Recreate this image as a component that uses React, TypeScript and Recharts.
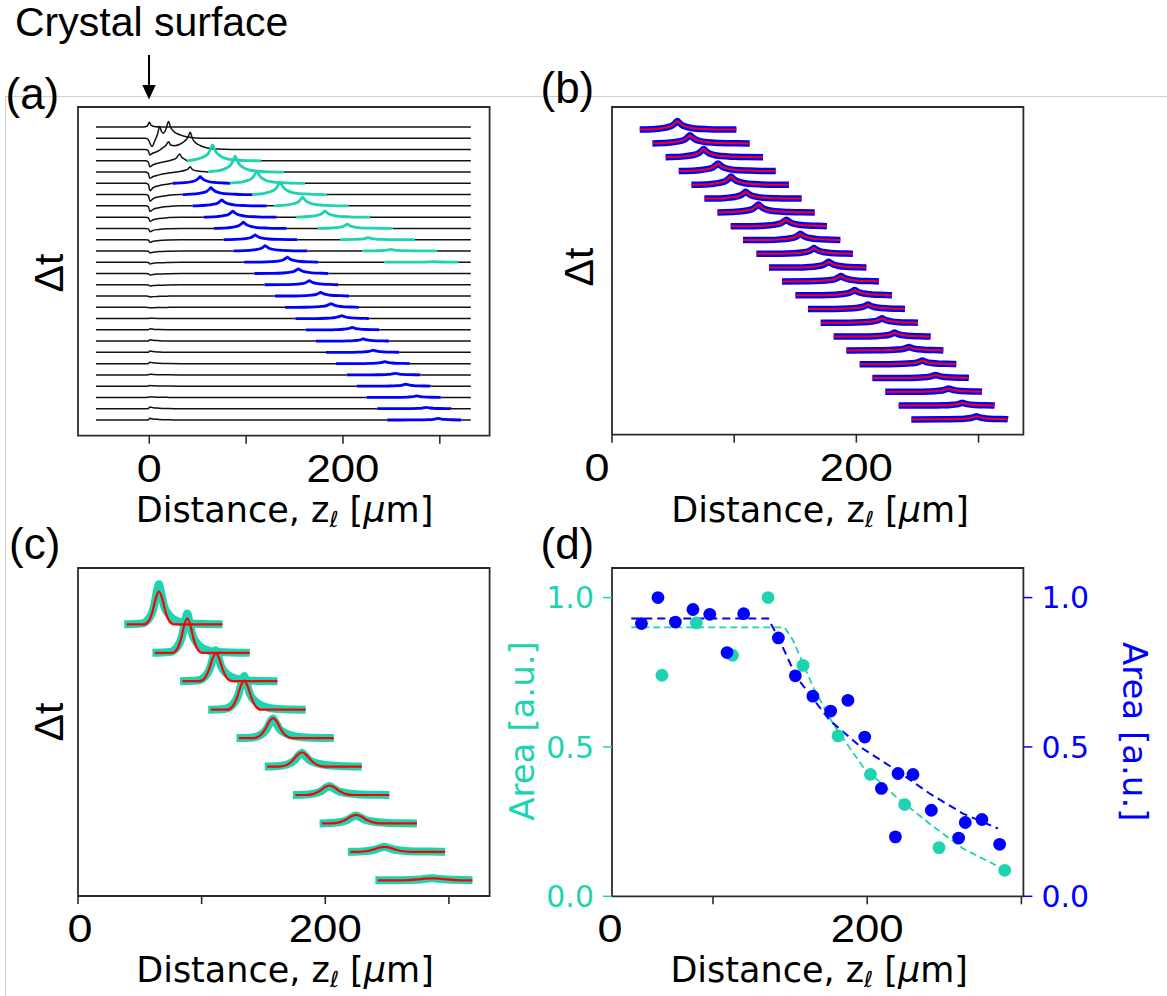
import React from 'react';
import { ComposedChart, Line, Scatter, XAxis, YAxis, ReferenceArea } from 'recharts';

type XY = [number, number];
type Pt = { x: number; y: number };

const CYAN = '#1dd3b0';
const BLUE = '#0000ff';
const RED = '#ff0000';
const INK = '#111111';
const FRAME = '#2b2b2b';
const SANS = '"Liberation Sans", Arial, sans-serif';
const DEJAVU = '"DejaVu Sans", sans-serif';

// --- shapes: [offset from peak in µm, fraction of peak height] ---
const SHARP_PEAK: XY[] = [[-27, 0.01], [-16, 0.1], [-9.5, 0.24], [-4.5, 0.45], [-1.5, 0.8], [0, 1], [1.5, 0.8], [4, 0.52], [7.5, 0.32], [14, 0.14], [25, 0.05], [35, 0.01]];
const SURFACE_DIP: XY[] = [[-4, 0], [-1, 0.15], [0.8, 1], [4, 0.6], [10, 0.32], [20, 0.1], [32, 0]];
const C_DATA_PEAK: XY[] = [[-14, 0.02], [-8, 0.15], [-4, 0.45], [-1.5, 0.85], [0, 1], [1.5, 0.82], [4, 0.47], [8, 0.24], [14, 0.09], [24, 0.02]];
const C_FIT_PEAK: XY[] = [[-12, 0], [-8, 0.12], [-5, 0.42], [-2.5, 0.8], [0, 1], [2.5, 0.8], [5, 0.42], [8, 0.12], [12, 0]];

// --- (a) raw traces, 27 delays, z in µm ---
const A_X0 = -55;
const A_X1 = 332;
const A_TOP_BLACK: XY[][] = [
  [[-55, 0], [-6, 0], [-2, 1], [0, 4.7], [2, 1.5], [5, 0.5], [12, 0], [332, 0]],
  [[-55, 0], [-4, 0], [-1, -1.5], [2.8, -8.3], [5.5, -3], [8.5, 4], [10.7, 11.7], [12.5, 7], [14.1, 5], [17, 8.5], [19.9, 16.7], [22, 11], [25, 7], [29, 4.5], [35, 2.3], [45, 0.6], [60, 0], [332, 0]],
  [[-55, 0], [-4, 0], [-1, -1.2], [0.5, -5.5], [3, -4], [8, -2], [13, 1], [17, 4], [20, 7.8], [22, 4.5], [26, 3.8], [31, 5], [36, 8], [40, 12.5], [42.3, 17.2], [44.5, 11], [47.5, 7], [53, 3.8], [60, 1.5], [70, 0.4], [85, 0], [332, 0]],
  [[-55, 0], [-4, 0], [-1, -1.2], [0.5, -5.9], [4, -4], [10, -2.2], [18, -0.5], [24, 1], [28, 2.8], [31.4, 6.8], [33.5, 3.5], [36, 2], [332, 0]],
  [[-55, 0], [-4, 0], [-1, -1.3], [0.5, -6.3], [4, -4.5], [10, -2.8], [20, -1], [30, 0.3], [37, 1.8], [40, 3], [42.2, 5.3], [44.5, 2.5], [50, 1], [56, 0.5], [332, 0]],
];
// surface feature of traces 5..26 (negative = dip)
const A_SURFACE = [-7.3, -6.7, -5.7, -4.3, -3.3, -2.7, -2, -1.7, -1.5, -1.3, -1, -0.7, 0.4, 1, 1.3, 1.3, 1.3, 0.7, 0.7, 0.7, 1.7, 1.7];
// blue (transmitted) pulse, traces 5..26
const A_BLUE_START = [24, 34.7, 44.7, 56, 66.3, 76.6, 86.9, 97.9, 108.6, 118.9, 129.9, 140.2, 150.8, 161.5, 172.2, 182.5, 192.8, 203.8, 214.1, 224.7, 235.4, 245.7];
const A_BLUE_END = [83.5, 106.5, 121.3, 131.6, 141.9, 152.9, 163.2, 174.5, 184.9, 195.2, 206.2, 216.5, 226.8, 237.4, 247.7, 258, 269.1, 280.1, 290.4, 301, 311.6, 322];
const A_BLUE_PEAK = [52.6, 63.6, 74.9, 86.3, 97.2, 109.3, 119.6, 142.6, 153.9, 165.3, 177, 187.6, 198.6, 209.6, 220.9, 231.2, 243.3, 254.3, 265, 276, 286.3, 298];
const A_BLUE_HEIGHT = [6.6, 6.9, 6, 6, 6.3, 4.7, 5.3, 5, 4.7, 4, 3.7, 3.7, 3, 2.5, 2.2, 2.2, 2, 1.6, 2, 1.6, 1.4, 1.6];
// cyan (fast) pulse, traces 3..12
const A_CYAN_START = [38.9, 61.1, 83.5, 106.5, 128.9, 151.5, 174.6, 196.9, 219.9, 242.6];
const A_CYAN_END = [115.5, 138.5, 160.8, 183.2, 205.5, 227.8, 251.2, 274.2, 296.6, 318.9];
const A_CYAN_PEAK = [65.3, 88.7, 111, 135, 158.4, 181.4, 204.5, 226.1, 249.2, 293];
const A_CYAN_HEIGHT = [16, 15.8, 12.2, 12.8, 8.8, 6.2, 4.2, 2, 1.6, 0.6];

// --- (b) blue pulse with fit, 22 delays ---
const B_START = [22.7, 33.1, 43.9, 54.6, 65, 75.6, 86.3, 97.1, 107.2, 118.2, 128.5, 139.1, 150.1, 160.4, 170.8, 181.4, 191.8, 202.7, 213.1, 223.7, 234.6, 245];
const B_END = [101.8, 112.7, 123.6, 134, 144.8, 155.2, 165.9, 175.9, 186.9, 197.2, 208.2, 218.5, 229.1, 239.8, 250.4, 260.8, 271.2, 281.8, 292.1, 302.8, 313.2, 324.1];
const B_PEAK = [53.5, 63.8, 75, 86.8, 97.4, 109.4, 119.8, 142.7, 154.2, 165.3, 177.3, 187.4, 198.6, 209.5, 221, 231.3, 243, 254, 264.9, 275.5, 286.7, 298.2];
const B_HEIGHT = [8.5, 8.2, 8.2, 7.6, 8.2, 6.8, 7.9, 6.5, 6.2, 5.7, 5.9, 5.4, 5.1, 4.5, 4.5, 4, 3.4, 3.7, 3.1, 3.4, 2.8, 3.1];

// --- (c) cyan pulse with fit, 10 delays ---
const C_START = [37.4, 60.2, 82.5, 105.3, 128.2, 151, 173.8, 195.4, 218.2, 240.5];
const C_END = [116.9, 138.9, 161.3, 184.1, 206.9, 229.5, 251.8, 274.1, 296.9, 319];
const C_PEAK = [65.5, 88.4, 111.5, 134.4, 157.7, 181.1, 203.4, 224.9, 247.8, 286.7];
const C_DATA_HEIGHT = [40, 39.4, 31, 33.6, 19.7, 13.7, 9, 8, 5, 2];
const C_FIT_HEIGHT = [33, 34.4, 28, 29, 20, 14.3, 9.5, 8.5, 5, 2];
const C_WIDTH = [1, 1, 1.1, 1.15, 1.3, 1.5, 1.6, 1.7, 1.9, 2.4];

// --- (d) pulse areas ---
const D_CYAN_X = [66.9, 89.2, 112.6, 135.7, 158.4, 181.1, 202.1, 224.3, 246.6, 289.2];
const D_CYAN_Y = [0.74, 0.915, 0.807, 1.0, 0.773, 0.537, 0.408, 0.307, 0.163, 0.087];
const D_BLUE_X = [53.6, 64.3, 75.6, 87.0, 97.9, 109.1, 119.9, 142.4, 153.4, 164.8, 176.3, 187.5, 198.4, 209.2, 218.3, 220.0, 229.7, 241.6, 259.3, 263.6, 274.4, 285.9];
const D_BLUE_Y = [0.913, 1.0, 0.918, 0.96, 0.944, 0.816, 0.946, 0.865, 0.738, 0.67, 0.62, 0.656, 0.533, 0.361, 0.199, 0.411, 0.408, 0.288, 0.195, 0.247, 0.257, 0.174];
const D_CYAN_FIT_X = [47, 146.5, 151.9, 158.4, 164.9, 177.8, 197.3, 218.9, 240.5, 262.1, 289.2];
const D_CYAN_FIT_Y = [0.9, 0.9, 0.857, 0.779, 0.701, 0.578, 0.433, 0.332, 0.243, 0.16, 0.089];
const D_BLUE_FIT_X = [47, 135.7, 142.2, 154.1, 175.7, 197.3, 218.9, 240.5, 262.1, 284.8];
const D_BLUE_FIT_Y = [0.93, 0.93, 0.868, 0.734, 0.589, 0.494, 0.422, 0.344, 0.277, 0.227];

// --- layout ---
type Box = { x0: number; y0: number; x1: number; y1: number };
const BOX_A: Box = { x0: 77.7, y0: 107, x1: 489.3, y1: 435.7 };
const BOX_B: Box = { x0: 612.3, y0: 107.3, x1: 1023.7, y1: 435 };
const BOX_C: Box = { x0: 77.7, y0: 567.7, x1: 489.3, y1: 895.7 };
const BOX_D: Box = { x0: 612.3, y0: 567.7, x1: 1023.7, y1: 896 };
const PAD = 30;
const XAXIS_H = 60;

const A_STEP = 11.27, A_BASE0 = 15.7;
const B_STEP = 13.8, B_BASE0 = 15.3;
const C_STEP = 28.44, C_BASE0 = 15.7;

const toPts = (xy: XY[], base: number): Pt[] => xy.map(([x, y]) => ({ x, y: base + y }));

function peakSeg(start: number, end: number, peak: number, h: number, shape: XY[], w: number): XY[] {
  const inner = shape
    .map(([dx, f]) => [peak + dx * w, f * h] as XY)
    .filter(([x]) => x > start && x < end);
  return [[start, 0], ...inner, [end, 0]];
}

function pieces(pts: XY[], gaps: XY[], lo: number, hi: number): XY[][] {
  const gs = [...gaps].sort((p, q) => p[0] - q[0]);
  const spans: XY[] = [];
  let a = lo;
  for (const [s, e] of gs) {
    if (s > a) spans.push([a, s]);
    a = Math.max(a, e);
  }
  if (a < hi) spans.push([a, hi]);
  return spans.map(([s, e]) => [[s, 0] as XY, ...pts.filter((p) => p[0] > s && p[0] < e), [e, 0] as XY]);
}

function trace(key: string, pts: Pt[], color: string, width: number) {
  return (
    <Line
      key={key}
      data={pts}
      dataKey="y"
      type="monotone"
      stroke={color}
      strokeWidth={width}
      dot={false}
      activeDot={false}
      isAnimationActive={false}
      legendType="none"
    />
  );
}

// panel (a)
const aBlack: React.ReactElement[] = [];
const aBlue: React.ReactElement[] = [];
const aCyan: React.ReactElement[] = [];
for (let i = 0; i < 27; i++) {
  const base = A_BASE0 + (26 - i) * A_STEP;
  const gaps: XY[] = [];
  const j = i - 5;
  const k = i - 3;
  if (j >= 0) {
    gaps.push([A_BLUE_START[j], A_BLUE_END[j]]);
    aBlue.push(trace(`ab${i}`, toPts(peakSeg(A_BLUE_START[j], A_BLUE_END[j], A_BLUE_PEAK[j], A_BLUE_HEIGHT[j], SHARP_PEAK, 1), base), BLUE, 2.8));
  }
  if (k >= 0 && k < A_CYAN_START.length) {
    gaps.push([A_CYAN_START[k], A_CYAN_END[k]]);
    aCyan.push(trace(`ac${i}`, toPts(peakSeg(A_CYAN_START[k], A_CYAN_END[k], A_CYAN_PEAK[k], A_CYAN_HEIGHT[k], SHARP_PEAK, 1), base), CYAN, 2.8));
  }
  const keyPts: XY[] = i < 5
    ? A_TOP_BLACK[i]
    : [[A_X0, 0], ...SURFACE_DIP.map(([dx, f]) => [dx, f * A_SURFACE[j]] as XY), [A_X1, 0]];
  pieces(keyPts, gaps, A_X0, A_X1).forEach((p, n) => aBlack.push(trace(`ak${i}-${n}`, toPts(p, base), INK, 1.5)));
}

// panel (b)
const bSeries: React.ReactElement[] = [];
B_START.forEach((s, i) => {
  const base = B_BASE0 + (B_START.length - 1 - i) * B_STEP;
  const pts = toPts(peakSeg(s, B_END[i], B_PEAK[i], B_HEIGHT[i], SHARP_PEAK, 1), base);
  bSeries.push(trace(`bb${i}`, pts, BLUE, 6.5));
  bSeries.push(trace(`br${i}`, pts, RED, 2));
});

// panel (c)
const cData: React.ReactElement[] = [];
const cFit: React.ReactElement[] = [];
C_START.forEach((s, i) => {
  const base = C_BASE0 + (C_START.length - 1 - i) * C_STEP;
  cData.push(trace(`cd${i}`, toPts(peakSeg(s, C_END[i], C_PEAK[i], C_DATA_HEIGHT[i], C_DATA_PEAK, C_WIDTH[i]), base), CYAN, 8));
  cFit.push(trace(`cf${i}`, toPts(peakSeg(s + 2, C_END[i], C_PEAK[i], C_FIT_HEIGHT[i], C_FIT_PEAK, C_WIDTH[i]), base), RED, 2.2));
});

// panel (d)
const dCyan = D_CYAN_X.map((x, i) => ({ x, y: D_CYAN_Y[i] }));
const dBlue = D_BLUE_X.map((x, i) => ({ x, y: D_BLUE_Y[i] }));
const dCyanFit = D_CYAN_FIT_X.map((x, i) => ({ x, y: D_CYAN_FIT_Y[i] }));
const dBlueFit = D_BLUE_FIT_X.map((x, i) => ({ x, y: D_BLUE_FIT_Y[i] }));

type Lab = { text: string; dx: number; len: number };
function tickLabels(labels: Record<string, Lab>) {
  return (props: any) => {
    const { x, y, payload } = props;
    const l = labels[String(payload.value)];
    if (!l) return <g />;
    return (
      <text x={x + l.dx} y={y + 38} textAnchor="middle" fontFamily={SANS} fontSize={38} fill="#000"
        textLength={l.len} lengthAdjust="spacingAndGlyphs">
        {l.text}
      </text>
    );
  };
}

const L0 = (dx = 0): Lab => ({ text: '0', dx, len: 25 });
const L200: Lab = { text: '200', dx: 0, len: 73 };

function Waterfall({ box, xDomain, yTop, labels, series }: {
  box: Box; xDomain: XY; yTop: number; labels: Record<string, Lab>; series: React.ReactElement[];
}) {
  const width = box.x1 - box.x0 + 2 * PAD;
  const height = box.y1 - box.y0 + PAD + XAXIS_H;
  return (
    <div style={{ position: 'absolute', left: box.x0 - PAD, top: box.y0 - PAD }}>
      <ComposedChart width={width} height={height} margin={{ top: PAD, right: PAD, left: PAD, bottom: 0 }}>
        <XAxis type="number" dataKey="x" domain={xDomain} allowDataOverflow ticks={[0, 100, 200, 300]} interval={0}
          height={XAXIS_H} axisLine={false} tickSize={8} tickMargin={0}
          tickLine={{ stroke: FRAME, strokeWidth: 1.6 }} tick={tickLabels(labels)} />
        <YAxis hide type="number" domain={[0, yTop]} allowDataOverflow />
        <ReferenceArea x1={xDomain[0]} x2={xDomain[1]} y1={0} y2={yTop} fill="none" stroke={FRAME} strokeWidth={1.8} />
        {series}
      </ComposedChart>
    </div>
  );
}

function XLabel({ cx, y }: { cx: number; y: number }) {
  return (
    <text x={cx} y={y} textAnchor="middle" fontFamily={DEJAVU} fontSize={35} fill="#000">
      Distance, z<tspan fontSize={22} fontStyle="italic" dy={5}>ℓ</tspan><tspan dy={-5}>{' ['}</tspan><tspan fontStyle="italic">μ</tspan>m]
    </text>
  );
}

const dot = (color: string) => (p: any) => <circle cx={p.cx} cy={p.cy} r={6.4} fill={color} />;

export default function App() {
  const dW = BOX_D.x1 - BOX_D.x0 + 160;
  const dH = BOX_D.y1 - BOX_D.y0 + PAD + XAXIS_H;
  const D_XDOM: XY = [34.5, 301.3];
  const D_YDOM: XY = [0, 1.099];
  return (
    <div style={{ position: 'absolute', left: 0, top: 0, width: 1167, height: 996, background: '#fff', overflow: 'hidden' }}>
      <style>{'.recharts-surface{overflow:visible}'}</style>
      <svg width={1167} height={996} style={{ position: 'absolute', left: 0, top: 0 }}>
        <line x1={5} y1={96.5} x2={1167} y2={96.5} stroke="#cfcfcf" strokeWidth={1} />
        <line x1={5.5} y1={96.5} x2={5.5} y2={996} stroke="#cfcfcf" strokeWidth={1} />
      </svg>

      <Waterfall box={BOX_A} xDomain={[-73.6, 351.4]} yTop={328.7} labels={{ '0': L0(), '200': L200 }}
        series={[...aBlack, ...aBlue, ...aCyan]} />
      <Waterfall box={BOX_B} xDomain={[0, 336.7]} yTop={327.7} labels={{ '0': L0(-15), '200': L200 }}
        series={bSeries} />
      <Waterfall box={BOX_C} xDomain={[0, 332.9]} yTop={328} labels={{ '0': L0(2), '200': L200 }}
        series={[...cData, ...cFit]} />

      <div style={{ position: 'absolute', left: BOX_D.x0 - 80, top: BOX_D.y0 - PAD }}>
        <ComposedChart width={dW} height={dH} margin={{ top: PAD, right: 0, left: 0, bottom: 0 }}>
          <XAxis type="number" dataKey="x" domain={D_XDOM} allowDataOverflow ticks={[100, 200, 300]} interval={0}
            height={XAXIS_H} axisLine={false} tickSize={8} tickMargin={0}
            tickLine={{ stroke: FRAME, strokeWidth: 1.6 }} tick={tickLabels({ '200': L200 })} />
          <YAxis yAxisId="left" orientation="left" type="number" dataKey="y" domain={D_YDOM} allowDataOverflow
            ticks={[0, 0.5, 1]} tickFormatter={(v: number) => v.toFixed(1)} width={80} stroke={CYAN}
            axisLine={false} tickSize={9} tickMargin={9} tickLine={{ stroke: CYAN, strokeWidth: 1.5 }}
            tick={{ fill: CYAN, fontSize: 30, fontFamily: DEJAVU }} />
          <YAxis yAxisId="right" orientation="right" type="number" dataKey="y" domain={D_YDOM} allowDataOverflow
            ticks={[0, 0.5, 1]} tickFormatter={(v: number) => v.toFixed(1)} width={80} stroke={BLUE}
            axisLine={false} tickSize={9} tickMargin={9} tickLine={{ stroke: BLUE, strokeWidth: 1.5 }}
            tick={{ fill: BLUE, fontSize: 30, fontFamily: DEJAVU }} />
          <ReferenceArea yAxisId="left" x1={D_XDOM[0]} x2={D_XDOM[1]} y1={D_YDOM[0]} y2={D_YDOM[1]}
            fill="none" stroke={FRAME} strokeWidth={1.8} />
          <Line yAxisId="left" data={dCyanFit} dataKey="y" type="linear" stroke={CYAN} strokeWidth={1.8}
            strokeDasharray="7 4" dot={false} activeDot={false} isAnimationActive={false} legendType="none" />
          <Line yAxisId="right" data={dBlueFit} dataKey="y" type="linear" stroke={BLUE} strokeWidth={2}
            strokeDasharray="8 5" dot={false} activeDot={false} isAnimationActive={false} legendType="none" />
          <Scatter yAxisId="left" data={dCyan} dataKey="y" fill={CYAN} shape={dot(CYAN)} isAnimationActive={false} legendType="none" />
          <Scatter yAxisId="right" data={dBlue} dataKey="y" fill={BLUE} shape={dot(BLUE)} isAnimationActive={false} legendType="none" />
        </ComposedChart>
      </div>

      <svg width={1167} height={996} style={{ position: 'absolute', left: 0, top: 0, pointerEvents: 'none' }}>
        <text x={15} y={36} fontFamily={SANS} fontSize={41} fill="#000">Crystal surface</text>
        <line x1={149} y1={55} x2={149} y2={86} stroke="#000" strokeWidth={2} />
        <polygon points="142.3,85 155.7,85 149,99.5" fill="#000" />

        <text x={5.5} y={109} fontFamily={SANS} fontSize={44} fill="#000">(a)</text>
        <text x={540.5} y={103} fontFamily={SANS} fontSize={44} fill="#000">(b)</text>
        <text x={9} y={559} fontFamily={SANS} fontSize={44} fill="#000">(c)</text>
        <text x={540.5} y={559} fontFamily={SANS} fontSize={44} fill="#000">(d)</text>

        <text x={63} y={273} transform="rotate(-90 63 273)" textAnchor="middle" fontFamily={SANS} fontSize={41} fill="#000">Δt</text>
        <text x={593} y={267} transform="rotate(-90 593 267)" textAnchor="middle" fontFamily={SANS} fontSize={41} fill="#000">Δt</text>
        <text x={63} y={722} transform="rotate(-90 63 722)" textAnchor="middle" fontFamily={SANS} fontSize={41} fill="#000">Δt</text>

        <XLabel cx={284.5} y={521.7} />
        <XLabel cx={820} y={521.7} />
        <XLabel cx={285} y={981.7} />
        <XLabel cx={819.2} y={981.7} />

        <text x={610} y={942} textAnchor="middle" fontFamily={SANS} fontSize={38} fill="#000" textLength={25} lengthAdjust="spacingAndGlyphs">0</text>

        <text x={534} y={731} transform="rotate(-90 534 731)" textAnchor="middle" fontFamily={DEJAVU} fontSize={34} fill={CYAN}>Area [a.u.]</text>
        <text x={1123} y={731.7} transform="rotate(90 1123 731.7)" textAnchor="middle" fontFamily={DEJAVU} fontSize={34} fill={BLUE}>Area [a.u.]</text>
      </svg>
    </div>
  );
}
